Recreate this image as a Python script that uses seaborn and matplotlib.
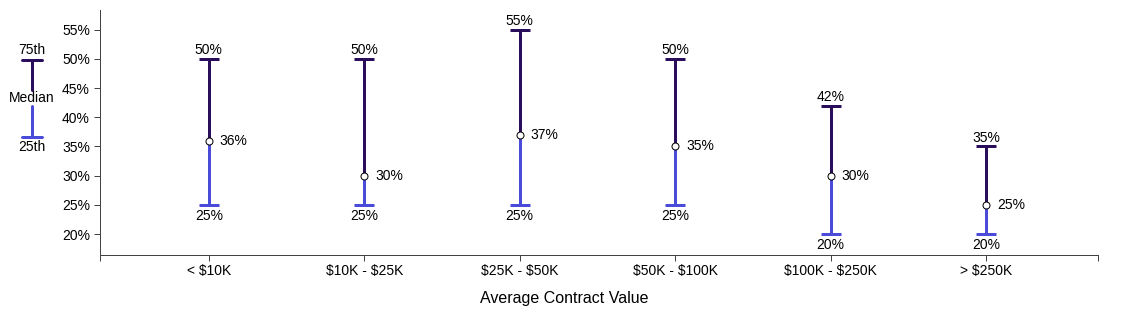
import matplotlib
matplotlib.use("Agg")
import matplotlib.pyplot as plt
from matplotlib.lines import Line2D
import seaborn as sns
import pandas as pd
import numpy as np

categories = ["< $10K", "$10K - $25K", "$25K - $50K", "$50K - $100K", "$100K - $250K", "> $250K"]
p25 = [25, 25, 25, 25, 20, 20]
median = [36, 30, 37, 35, 30, 25]
p75 = [50, 50, 55, 50, 42, 35]
yticks = [20, 25, 30, 35, 40, 45, 50, 55]

DARK = "#2a0e5c"
LIGHT = "#4b4bd9"
AXC = "#444444"

sns.set_theme(style="white")
plt.rcParams["font.family"] = ["Liberation Sans", "DejaVu Sans"]
plt.rcParams["text.color"] = "black"
plt.rcParams["axes.labelcolor"] = "black"
plt.rcParams["xtick.color"] = "black"
plt.rcParams["ytick.color"] = "black"

df = pd.DataFrame({"cat": categories, "p25": p25, "med": median, "p75": p75})
df["x"] = np.arange(len(categories))

fig = plt.figure(figsize=(11.28, 3.24), dpi=100)
ax = fig.add_axes([100/1128, 69/324, 998/1128, 245/324])

PX = 72/100  # points per pixel


def fx(px):
    return px/1128


def fy(py):
    return 1 - py/324


# lines
ax.vlines(df["x"], df["med"], df["p75"], color=DARK, lw=3*PX, zorder=2)
ax.vlines(df["x"], df["p25"], df["med"], color=LIGHT, lw=3*PX, zorder=2)
# caps
ax.plot(df["x"], df["p75"], ls="none", marker="_", ms=20*PX, mew=3*PX, color=DARK, zorder=3)
ax.plot(df["x"], df["p25"], ls="none", marker="_", ms=20*PX, mew=3*PX, color=LIGHT, zorder=3)
# median points
sns.scatterplot(data=df, x="x", y="med", ax=ax, color="white", edgecolor="black",
                linewidth=1*PX, s=(7*PX)**2, zorder=4, legend=False)

fs = 10
for _, r in df.iterrows():
    ax.annotate(f"{r['p75']:.0f}%", (r["x"], r["p75"]), xytext=(0, 2*PX), textcoords="offset points",
                ha="center", va="bottom", fontsize=fs, color="black")
    ax.annotate(f"{r['p25']:.0f}%", (r["x"], r["p25"]), xytext=(0, -4*PX), textcoords="offset points",
                ha="center", va="top", fontsize=fs, color="black")
    ax.annotate(f"{r['med']:.0f}%", (r["x"], r["med"]), xytext=(11*PX, 0), textcoords="offset points",
                ha="left", va="center", fontsize=fs, color="black")

ax.set_xlim(-0.70, 5.72)
ax.set_ylim(16.4, 58.4)
ax.set_xticks(df["x"])
ax.set_xticklabels([c.replace("$", r"\$") for c in categories], fontsize=fs, color="black")
ax.set_xticks([-0.70, 5.72], minor=True)
ax.set_yticks(yticks)
ax.set_yticklabels([f"{v}%" for v in yticks], fontsize=fs, color="black")
ax.tick_params(axis="both", which="both", direction="out", length=6*PX, width=1*PX, color=AXC,
               bottom=True, left=True)
ax.tick_params(axis="x", pad=2)
ax.tick_params(axis="y", pad=3)
ax.set_xlabel("Average Contract Value", fontsize=11.5, color="black")
ax.xaxis.set_label_coords(fx(564), fy(298), transform=fig.transFigure)
ax.xaxis.label.set_va("center")
ax.xaxis.label.set_ha("center")
ax.set_ylabel("")
for s in ["top", "right"]:
    ax.spines[s].set_visible(False)
for s in ["left", "bottom"]:
    ax.spines[s].set_color(AXC)
    ax.spines[s].set_linewidth(1*PX)
ax.grid(False)
ax.set_facecolor("white")

# legend key (figure pixel coordinates)
lx = 32
fig.add_artist(Line2D([fx(lx), fx(lx)], [fy(60), fy(90)], color=DARK, lw=3*PX))
fig.add_artist(Line2D([fx(lx-10), fx(lx+10)], [fy(60), fy(60)], color=DARK, lw=3*PX))
fig.add_artist(Line2D([fx(lx), fx(lx)], [fy(106), fy(137)], color=LIGHT, lw=3*PX))
fig.add_artist(Line2D([fx(lx-10), fx(lx+10)], [fy(137), fy(137)], color=LIGHT, lw=3*PX))
fig.text(fx(lx), fy(50), "75th", ha="center", va="center", fontsize=fs)
fig.text(fx(lx), fy(98), "Median", ha="center", va="center", fontsize=fs)
fig.text(fx(lx), fy(147), "25th", ha="center", va="center", fontsize=fs)

fig.savefig("out.png", dpi=100, facecolor="white")
